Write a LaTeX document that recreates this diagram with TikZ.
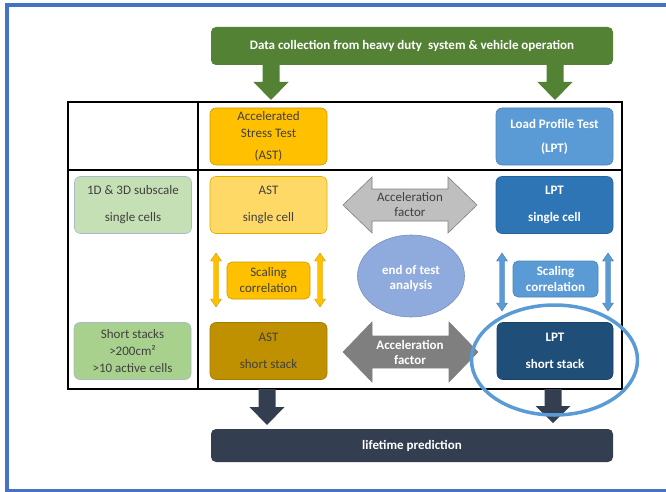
\documentclass[tikz,border=0pt]{standalone}
\usepackage{fontspec}
\setmainfont{Carlito}
\definecolor{frameblue}{HTML}{4472C4}
\definecolor{topgreen}{HTML}{548235}
\definecolor{astgold}{HTML}{FFC000}
\definecolor{astlight}{HTML}{FFD966}
\definecolor{astdark}{HTML}{BF9000}
\definecolor{lgreen}{HTML}{C5E0B4}
\definecolor{mgreen}{HTML}{A9D18E}
\definecolor{lptmid}{HTML}{5B9BD5}
\definecolor{lptcell}{HTML}{2E75B6}
\definecolor{lptdark}{HTML}{1F4E79}
\definecolor{ellblue}{HTML}{8FAADC}
\definecolor{navy}{HTML}{333F50}
\definecolor{txtgray}{HTML}{404040}
\definecolor{lgray}{HTML}{BFBFBF}
\definecolor{dgray}{HTML}{7F7F7F}
\newcommand\myDownArrow[5]{%
  \fill[#5] ({#1-8.5},#2) -- ({#1+8.5},#2) -- ({#1+8.5},#3) -- ({#1+17.5},#3)
    -- (#1,#4) -- ({#1-17.5},#3) -- ({#1-8.5},#3) -- cycle;}
\newcommand\myVArrow[4]{%
  \filldraw[fill=#4, draw=#4!80!black, line width=0.4pt]
    ({#1-2.5},{#2+8}) -- ({#1-5.5},{#2+8}) -- (#1,#2) -- ({#1+5.5},{#2+8}) -- ({#1+2.5},{#2+8})
    -- ({#1+2.5},{#3-8}) -- ({#1+5.5},{#3-8}) -- (#1,#3) -- ({#1-5.5},{#3-8}) -- ({#1-2.5},{#3-8}) -- cycle;}
\newcommand\myHArrow[6]{% x1 x2 yc halfhead fill draw
  \filldraw[fill=#5, draw=#6, line width=0.6pt]
    (#1,#3) -- ({#1+29},{#3-#4}) -- ({#1+29},{#3-16}) -- ({#2-29},{#3-16}) -- ({#2-29},{#3-#4})
    -- (#2,#3) -- ({#2-29},{#3+#4}) -- ({#2-29},{#3+16}) -- ({#1+29},{#3+16}) -- ({#1+29},{#3+#4}) -- cycle;}
\begin{document}
\begin{tikzpicture}[x=1pt,y=-1pt,
  bx/.style={rounded corners=6pt, minimum width=117pt, minimum height=57pt,
    align=center, inner sep=1pt, line width=0.6pt, font=\fontsize{13}{17}\selectfont},
  sc/.style={rounded corners=5pt, align=center, inner sep=1pt, line width=0.6pt,
    font=\fontsize{13}{16}\selectfont},
  lbl/.style={align=center, inner sep=0pt, font=\fontsize{13}{15}\selectfont}]
\useasboundingbox (0,0) rectangle (666,492);
% frame
\draw[frameblue, line width=4pt] (6.5,492) -- (6.5,5.5) -- (666,5.5);
\draw[frameblue, line width=3pt] (5,490.5) -- (666,490.5);
% top green box
\node[rounded corners=5pt, fill=topgreen, minimum width=402pt, minimum height=38pt,
  text=white, font=\bfseries\fontsize{13}{14}\selectfont] (data) at (412,46)
  {Data collection from heavy duty \ system \& vehicle operation};
\myDownArrow{271}{65}{82}{100}{topgreen}
\myDownArrow{555}{65}{82}{100}{topgreen}
% table
\draw[line width=2pt] (68,102) rectangle (622,389);
\draw[line width=2pt] (198,102) -- (198,389);
\draw[line width=2pt] (68,170) -- (622,170);
% top row
\node[bx, fill=astgold, draw=astgold!80!black, text=txtgray] (ast) at (268.5,136.5)
  {Accelerated\\Stress Test\\[5pt](AST)};
\node[bx, fill=lptmid, draw=lptmid!85!black, text=white, font=\bfseries\fontsize{13}{24}\selectfont]
  (lpt) at (554.5,136.5) {Load Profile Test\\(LPT)};
% row 2
\node[bx, fill=lgreen, draw=lptmid!40!gray!60, text=txtgray, font=\fontsize{13}{27}\selectfont]
  (sub) at (133,205) {1D \& 3D subscale\\single cells};
\node[bx, fill=astlight, draw=astgold!90!black, text=txtgray, font=\fontsize{13}{27}\selectfont]
  (astc) at (268.5,205) {AST\\single cell};
\node[bx, fill=lptcell, draw=lptcell!85!black, text=white, font=\bfseries\fontsize{13}{27}\selectfont]
  (lptc) at (554.5,205) {LPT\\single cell};
% row 3
\node[bx, fill=mgreen, draw=lptmid!40!gray!60, text=txtgray, font=\fontsize{13}{17}\selectfont] (ss) at (132.5,351)
  {Short stacks\\>200cm²\\>10 active cells};
\node[bx, fill=astdark, draw=astdark!85!black, text=txtgray, font=\fontsize{13}{27}\selectfont]
  (asts) at (268.5,351) {AST\\short stack};
\node[bx, fill=lptdark, draw=lptdark!85!black, text=white, minimum width=116pt, font=\bfseries\fontsize{13}{27}\selectfont]
  (lpts) at (555,351) {LPT\\short stack};
% scaling correlation
\node[sc, fill=astgold, draw=astgold!80!black, text=txtgray, minimum width=83pt, minimum height=37pt]
  (scl) at (268.5,280.5) {Scaling\\correlation};
\myVArrow{216}{253}{307}{astgold}
\myVArrow{320}{253}{307}{astgold}
\node[sc, fill=lptmid, draw=lptmid!85!black, text=white, font=\bfseries\fontsize{13}{16}\selectfont,
  minimum width=85pt, minimum height=36pt] (scr) at (555.5,279) {Scaling\\correlation};
\myVArrow{502}{253}{311}{lptmid}
\myVArrow{608}{253}{311}{lptmid}
% acceleration arrows
\myHArrow{343}{477}{205}{28}{lgray}{gray}
\node[lbl, text=txtgray] (acc1) at (410,205) {Acceleration\\factor};
\myHArrow{343}{478}{352}{30}{dgray}{dgray}
\node[lbl, text=white, font=\bfseries\fontsize{13}{15}\selectfont] (acc2) at (410,352) {Acceleration\\factor};
% ellipse
\filldraw[fill=ellblue, draw=ellblue!85!black, line width=0.6pt] (411,276) ellipse [x radius=53.5, y radius=41];
\node[lbl, text=white, font=\bfseries\fontsize{13}{15}\selectfont] (eot) at (411,278) {end of test\\analysis};
% bottom
\myDownArrow{267}{389}{407}{425}{navy}
\myDownArrow{553}{389}{406}{423}{navy}
\node[rounded corners=5pt, fill=navy, minimum width=402pt, minimum height=33pt,
  text=white, font=\bfseries\fontsize{13}{14}\selectfont] (life) at (412,445.5) {lifetime prediction};
% highlight
\draw[lptmid, line width=3.5pt] (554.5,360) ellipse [x radius=83, y radius=55];
\end{tikzpicture}
\end{document}
